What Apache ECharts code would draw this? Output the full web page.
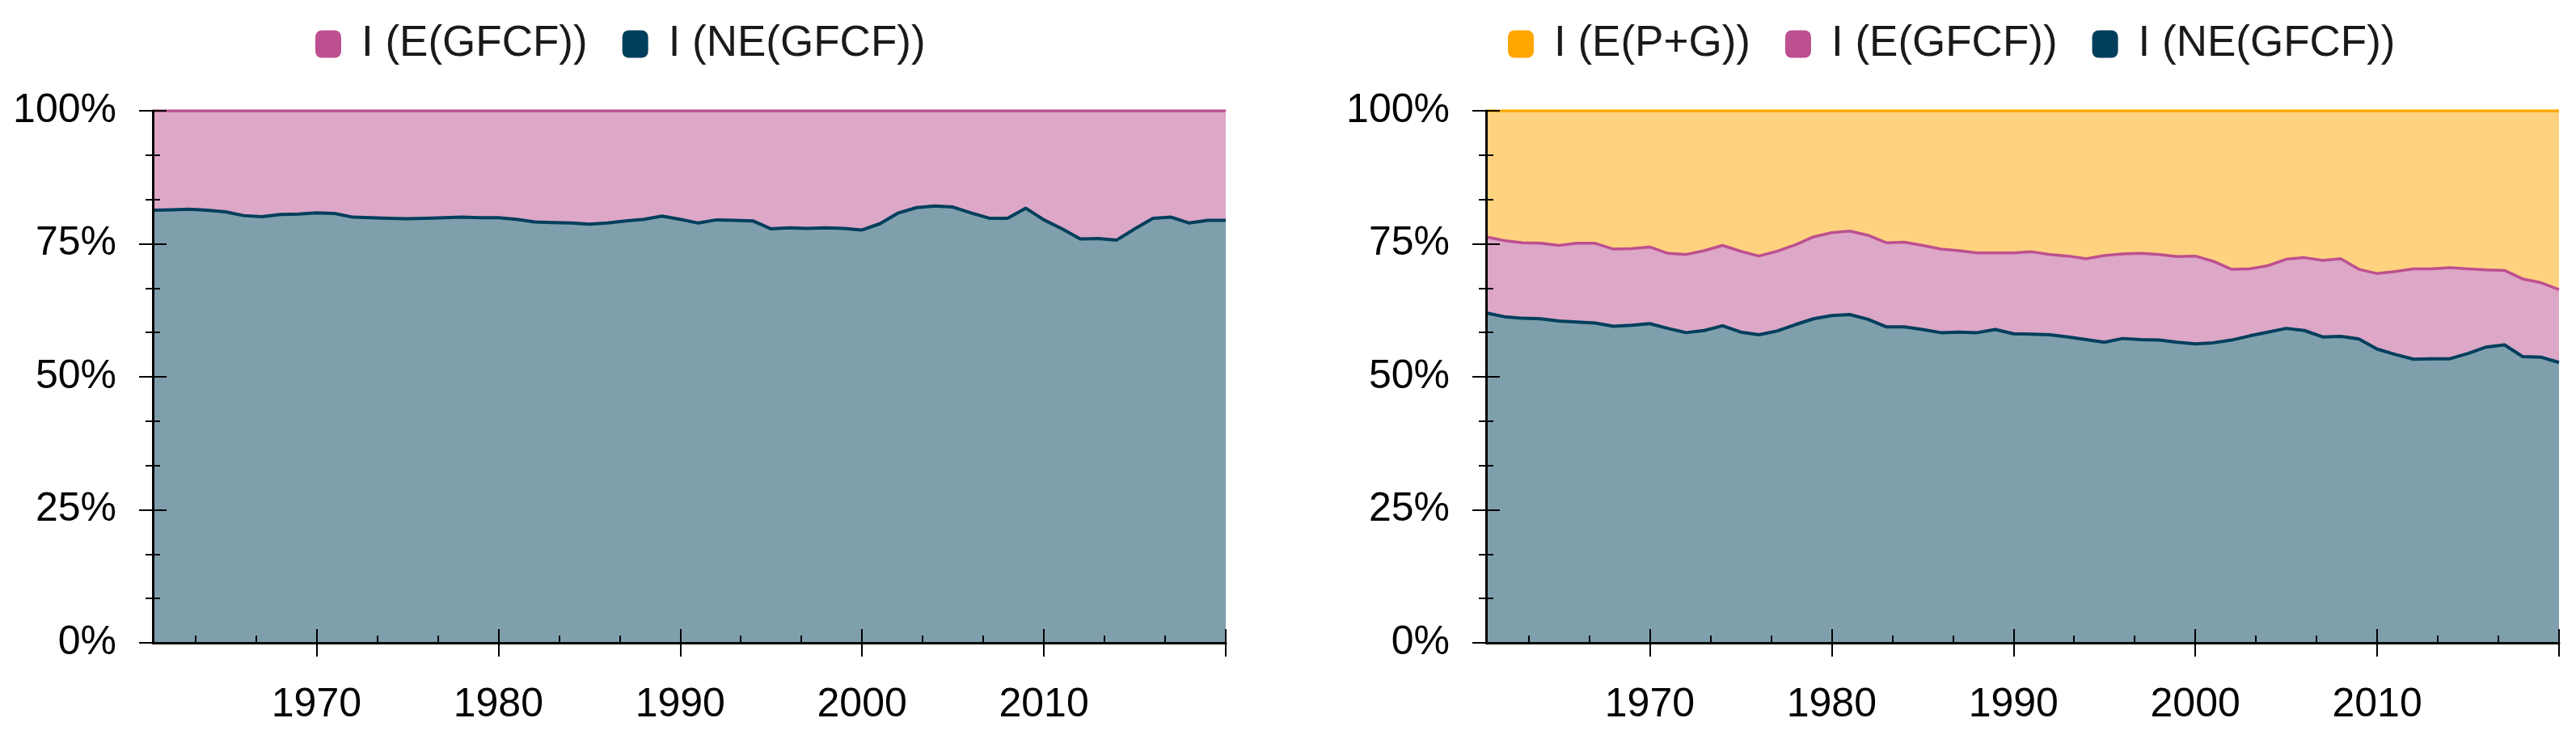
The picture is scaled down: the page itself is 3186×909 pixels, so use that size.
<!DOCTYPE html>
<html>
<head>
<meta charset="utf-8">
<script src="https://cdn.jsdelivr.net/npm/echarts@6/dist/echarts.min.js"></script>
<style>html,body{margin:0;padding:0;background:#fff}#c{width:3186px;height:909px}</style>
</head>
<body>
<div id="c"></div>
<script>
// ---- data ----
const years = [1961,1962,1963,1964,1965,1966,1967,1968,1969,1970,
  1971,1972,1973,1974,1975,1976,1977,1978,1979,1980,
  1981,1982,1983,1984,1985,1986,1987,1988,1989,1990,
  1991,1992,1993,1994,1995,1996,1997,1998,1999,2000,
  2001,2002,2003,2004,2005,2006,2007,2008,2009,2010,
  2011,2012,2013,2014,2015,2016,2017,2018,2019,2020];

// Left panel: shares (%) of I(NE(GFCF)) and I(E(GFCF))
const leftNE = [81.3,81.4,81.5,81.3,81.0,80.3,80.1,80.5,80.6,80.8,
  80.7,80.0,79.9,79.8,79.7,79.8,79.9,80.0,79.9,79.9,
  79.6,79.1,79.0,78.9,78.7,78.9,79.3,79.6,80.2,79.6,
  78.9,79.5,79.4,79.3,77.8,78.0,77.9,78.0,77.9,77.6,
  78.8,80.8,81.8,82.1,81.9,80.8,79.8,79.8,81.7,79.5,
  77.8,75.9,76.0,75.7,77.8,79.8,80.0,78.9,79.4,79.4];
const leftE = [18.7,18.6,18.5,18.7,19.0,19.7,19.9,19.5,19.4,19.2,
  19.3,20.0,20.1,20.2,20.3,20.2,20.1,20.0,20.1,20.1,
  20.4,20.9,21.0,21.1,21.3,21.1,20.7,20.4,19.8,20.4,
  21.1,20.5,20.6,20.7,22.2,22.0,22.1,22.0,22.1,22.4,
  21.2,19.2,18.2,17.9,18.1,19.2,20.2,20.2,18.3,20.5,
  22.2,24.1,24.0,24.3,22.2,20.2,20.0,21.1,20.6,20.6];

// Right panel: shares (%) of I(NE(GFCF)), I(E(GFCF)), I(E(P+G))
const rightNE = [62.0,61.3,61.0,60.9,60.5,60.3,60.1,59.5,59.7,60.0,
  59.1,58.3,58.7,59.6,58.4,57.9,58.6,59.8,60.9,61.5,
  61.7,60.8,59.4,59.4,58.9,58.3,58.4,58.3,58.9,58.1,
  58.0,57.9,57.5,57.0,56.5,57.2,57.0,56.9,56.5,56.2,
  56.4,56.9,57.7,58.4,59.1,58.7,57.5,57.6,57.1,55.2,
  54.2,53.3,53.4,53.4,54.4,55.6,56.0,53.8,53.7,52.7];
const rightE = [14.3,14.3,14.2,14.2,14.2,14.8,15.0,14.5,14.4,14.4,
  14.1,14.7,15.0,15.1,15.2,14.8,15.0,15.0,15.4,15.6,
  15.7,15.8,15.8,15.9,15.8,15.7,15.3,15.0,14.4,15.2,
  15.5,15.1,15.2,15.2,16.3,15.9,16.2,16.1,16.1,16.5,
  15.3,13.3,12.6,12.5,13.0,13.7,14.4,14.6,13.1,14.2,
  15.6,17.0,16.9,17.1,15.9,14.5,14.0,14.6,14.0,13.7];
const rightPG = [23.7,24.4,24.8,24.9,25.3,24.9,24.9,26.0,25.9,25.6,
  26.8,27.0,26.3,25.3,26.4,27.3,26.4,25.2,23.7,22.9,
  22.6,23.4,24.8,24.7,25.3,26.0,26.3,26.7,26.7,26.7,
  26.5,27.0,27.3,27.8,27.2,26.9,26.8,27.0,27.4,27.3,
  28.3,29.8,29.7,29.1,27.9,27.6,28.1,27.8,29.8,30.6,
  30.2,29.7,29.7,29.5,29.7,29.9,30.0,31.6,32.3,33.6];

const xLabelYears = [1970, 1980, 1990, 2000, 2010];
const nameNE = 'I (NE(GFCF))';
const nameE = 'I (E(GFCF))';
const namePG = 'I (E(P+G))';

// ---- styles ----
const FONT = 'Liberation Sans';
const C_NE = '#003f5c', C_E = '#bc5090', C_PG = '#ffa600';
const BLACK = '#000';

const grids = [
  {left: 189, top: 137, width: 1327, height: 658},
  {left: 1838, top: 137, width: 1327, height: 658}
];

// category axis carrying the data, with the long outward major ticks
function dataX(g) {
  return {
    type: 'category', gridIndex: g, data: years, boundaryGap: false, position: 'bottom', z: 10,
    axisLine: {show: false},
    axisTick: {show: true, inside: false, length: 17, lineStyle: {color: BLACK, width: 2},
      interval: (i, v) => (+v) % 10 === 0},
    axisLabel: {show: false}, splitLine: {show: false}
  };
}
// value axis (same span) with axis line, inward ticks, minor ticks and labels
function scaleX(g) {
  return {
    type: 'value', gridIndex: g, min: 1961, max: 2020, position: 'bottom', z: 11,
    axisLine: {show: true, lineStyle: {color: BLACK, width: 3}},
    axisTick: {show: true, inside: true, length: 17, lineStyle: {color: BLACK, width: 2}},
    minorTick: {show: true, splitNumber: 3, length: 9, lineStyle: {color: BLACK, width: 2}},
    splitLine: {show: false}, minorSplitLine: {show: false},
    axisLabel: {
      show: true, margin: 52, color: BLACK, fontFamily: FONT, fontSize: 50,
      formatter: v => xLabelYears.indexOf(v) >= 0 ? String(v) : ''
    }
  };
}
function mainY(g) {
  return {
    type: 'value', gridIndex: g, min: 0, max: 100, interval: 25, position: 'left', z: 10,
    axisLine: {show: true, lineStyle: {color: BLACK, width: 3}},
    axisTick: {show: true, inside: false, length: 17, lineStyle: {color: BLACK, width: 2}},
    minorTick: {show: true, splitNumber: 3, length: 9, lineStyle: {color: BLACK, width: 2}},
    splitLine: {show: false}, minorSplitLine: {show: false},
    axisLabel: {show: true, margin: 45, color: BLACK, fontFamily: FONT, fontSize: 50, formatter: '{value}%'}
  };
}
function innerY(g) {
  return {
    type: 'value', gridIndex: g, min: 0, max: 100, interval: 25, position: 'left', z: 10,
    axisLine: {show: false},
    axisTick: {show: true, inside: true, length: 17, lineStyle: {color: BLACK, width: 2}},
    minorTick: {show: true, splitNumber: 3, length: 9, lineStyle: {color: BLACK, width: 2}},
    splitLine: {show: false}, minorSplitLine: {show: false},
    axisLabel: {show: false}
  };
}

function areaSeries(name, color, vals, stack, xi, yi, lw) {
  return {
    name: name, type: 'line', stack: stack, xAxisIndex: xi, yAxisIndex: yi,
    data: vals,
    symbol: 'none', showSymbol: false, smooth: false,
    color: color,
    lineStyle: {color: color, width: lw},
    areaStyle: {color: color, opacity: 0.5},
    emphasis: {disabled: true}
  };
}

const legendCommon = {
  orient: 'horizontal', top: 23, itemWidth: 32, itemHeight: 34, itemGap: 43,
  icon: 'roundRect',
  itemStyle: {borderWidth: 0},
  textStyle: {fontFamily: FONT, fontSize: 53, color: '#1a1a1a', padding: [0, 0, 0, 20]}
};

const option = {
  animation: false,
  backgroundColor: '#fff',
  grid: grids,
  legend: [
    Object.assign({left: 385, data: [nameE, nameNE]}, legendCommon),
    Object.assign({left: 1860, data: [namePG, nameE, nameNE]}, legendCommon)
  ],
  xAxis: [dataX(0), scaleX(0), dataX(1), scaleX(1)],
  yAxis: [mainY(0), innerY(0), mainY(1), innerY(1)],
  series: [
    areaSeries(nameNE, C_NE, leftNE, 'L', 0, 0, 4),
    areaSeries(nameE, C_E, leftE, 'L', 0, 0, 3.5),
    areaSeries(nameNE, C_NE, rightNE, 'R', 2, 2, 4),
    areaSeries(nameE, C_E, rightE, 'R', 2, 2, 3.5),
    areaSeries(namePG, C_PG, rightPG, 'R', 2, 2, 3.5)
  ]
};

const chart = echarts.init(document.getElementById('c'), null, {renderer: 'canvas'});
chart.setOption(option);
</script>
</body>
</html>
